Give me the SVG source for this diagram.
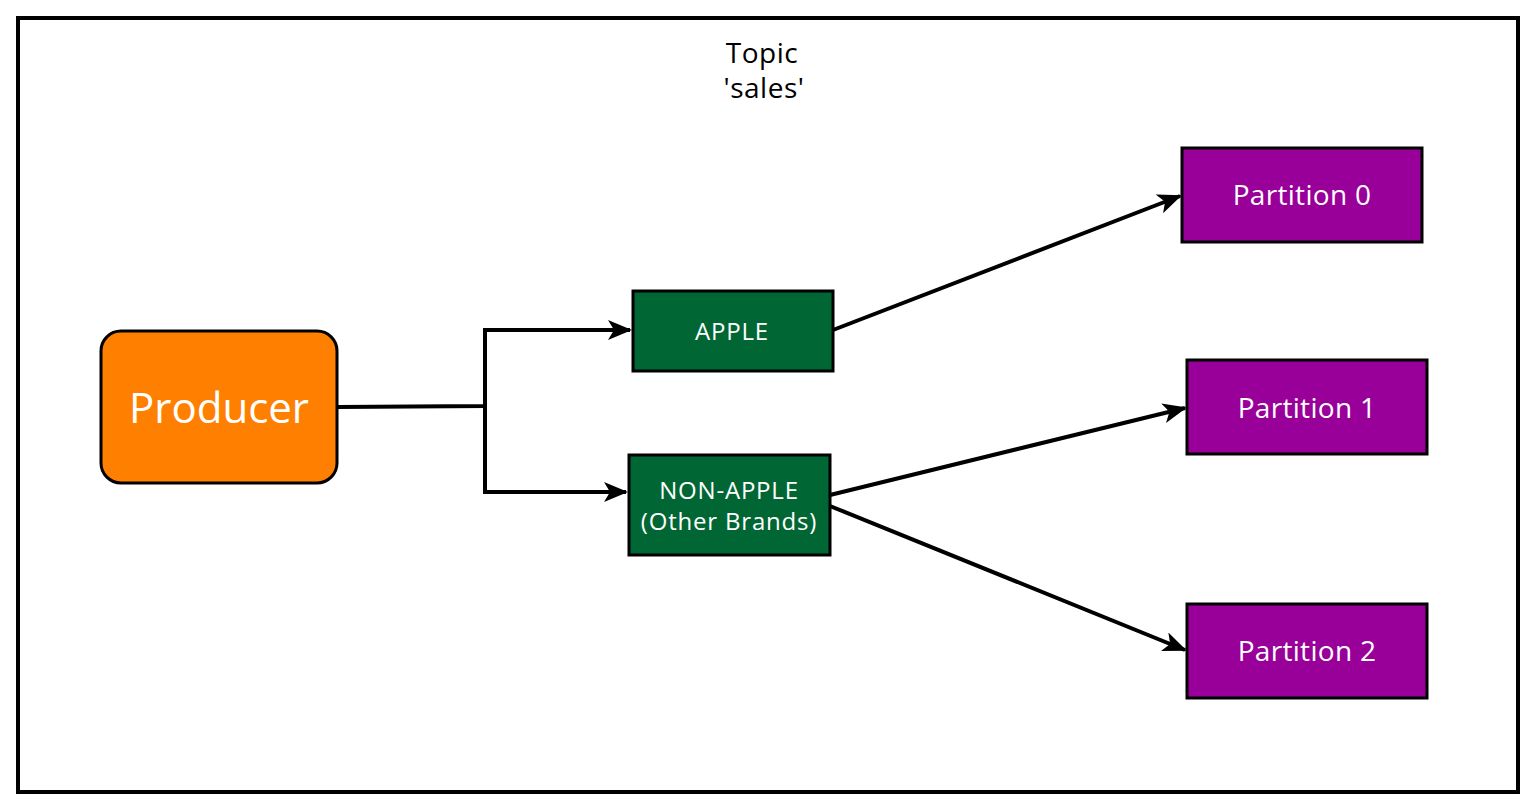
<svg xmlns="http://www.w3.org/2000/svg" width="1536" height="810" viewBox="0 0 1536 810">
<style>
  text { font-family: "Open Sans", Lato, "Liberation Sans", sans-serif; text-anchor: middle; dominant-baseline: central; }
  .wt { fill: #ffffff; }
  .small { font-size: 24px; letter-spacing: 0.8px; }
  .part { font-size: 28px; letter-spacing: 0.3px; }
  .green { fill: #006633; stroke: #000; stroke-width: 3; }
  .purple { fill: #990099; stroke: #000; stroke-width: 3; }
  .conn { fill: none; stroke: #000; stroke-width: 4; }
</style>
<defs>
  <marker id="arrow" viewBox="0 0 24 20" refX="22" refY="10" markerWidth="24" markerHeight="20" markerUnits="userSpaceOnUse" orient="auto">
    <path d="M0,0 L24,10 L0,20 L6,10 Z" fill="#000"/>
  </marker>
</defs>
<rect x="0" y="0" width="1536" height="810" fill="#ffffff"/>
<g id="topic">
  <rect x="18" y="18" width="1500" height="774" fill="#ffffff" stroke="#000" stroke-width="4"/>
  <text x="762" y="52" font-size="28" letter-spacing="0.5" fill="#000">Topic</text>
  <text x="764" y="87" font-size="28" letter-spacing="0.5" fill="#000">'sales'</text>
</g>
<g id="connectors">
  <polyline class="conn" points="338,407 485,406 485,330 630,330" marker-end="url(#arrow)"/>
  <polyline class="conn" points="485,406 485,492 626,492" marker-end="url(#arrow)"/>
  <line class="conn" x1="833" y1="330" x2="1180" y2="196" marker-end="url(#arrow)"/>
  <line class="conn" x1="830" y1="495" x2="1185" y2="408" marker-end="url(#arrow)"/>
  <line class="conn" x1="830" y1="506" x2="1185" y2="650" marker-end="url(#arrow)"/>
</g>
<g id="producer">
  <rect x="101" y="331" width="236" height="152" rx="20" ry="20" fill="#FF8000" stroke="#000" stroke-width="3"/>
  <text class="wt" x="219" y="406" font-size="42">Producer</text>
</g>
<g id="apple">
  <rect class="green" x="633" y="291" width="200" height="80"/>
  <text class="wt small" x="732" y="330">APPLE</text>
</g>
<g id="nonapple">
  <rect class="green" x="629" y="455" width="201" height="100"/>
  <text class="wt small" x="729" y="489">NON-APPLE</text>
  <text class="wt small" x="729" y="520">(Other Brands)</text>
</g>
<g id="partition0">
  <rect class="purple" x="1182" y="148" width="240" height="94"/>
  <text class="wt part" x="1302" y="194">Partition 0</text>
</g>
<g id="partition1">
  <rect class="purple" x="1187" y="360" width="240" height="94"/>
  <text class="wt part" x="1307" y="407">Partition 1</text>
</g>
<g id="partition2">
  <rect class="purple" x="1187" y="604" width="240" height="94"/>
  <text class="wt part" x="1307" y="650">Partition 2</text>
</g>
</svg>
